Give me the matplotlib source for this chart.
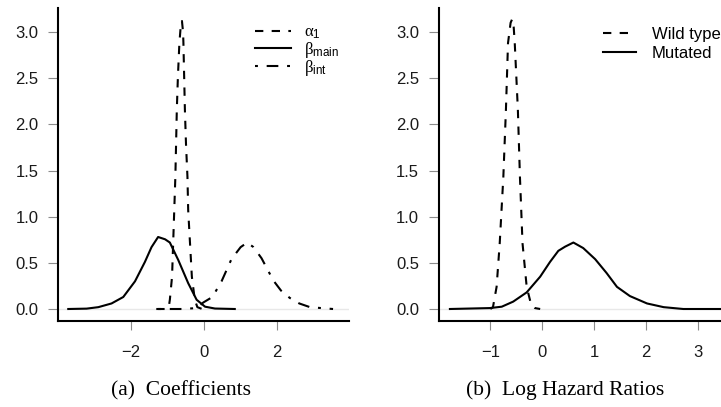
import matplotlib
matplotlib.use("Agg")
import matplotlib.pyplot as plt

alpha1_x = [-1.30, -1.00, -0.96, -0.93, -0.87, -0.84, -0.81, -0.78, -0.76, -0.74, -0.71, -0.67,
            -0.63, -0.60, -0.57, -0.56, -0.54, -0.52, -0.49, -0.45, -0.43, -0.38, -0.33, -0.25,
            -0.18, -0.05]
alpha1_y = [0.00, 0.00, 0.02, 0.10, 0.35, 0.71, 1.07, 1.43, 1.79, 2.16, 2.52, 2.88,
            3.08, 3.12, 3.00, 2.88, 2.52, 2.16, 1.79, 1.43, 1.07, 0.71, 0.35, 0.10,
            0.02, 0.00]

beta_main_x = [-3.70, -3.20, -2.88, -2.52, -2.20, -1.88, -1.61, -1.43, -1.25, -1.06, -0.93,
               -0.70, -0.43, -0.20, 0.03, 0.30, 0.84]
beta_main_y = [0.00, 0.004, 0.02, 0.06, 0.13, 0.30, 0.51, 0.67, 0.78, 0.755, 0.72,
               0.53, 0.28, 0.10, 0.025, 0.005, 0.00]

beta_int_x = [-1.25, -0.60, -0.20, -0.02, 0.23, 0.48, 0.75, 1.00, 1.18, 1.35, 1.57, 1.89,
              2.10, 2.34, 2.60, 2.89, 3.20, 3.52]
beta_int_y = [0.00, 0.00, 0.01, 0.07, 0.13, 0.30, 0.54, 0.67, 0.72, 0.67, 0.55, 0.31,
              0.20, 0.12, 0.06, 0.02, 0.01, 0.00]

wild_x = [-1.00, -0.95, -0.88, -0.82, -0.75, -0.70, -0.66, -0.61, -0.58, -0.55, -0.53,
          -0.47, -0.43, -0.38, -0.30, -0.22, -0.14, -0.04]
wild_y = [0.00, 0.02, 0.24, 0.71, 1.43, 2.16, 2.88, 3.10, 3.14, 3.05, 2.88,
          2.16, 1.43, 0.71, 0.24, 0.06, 0.01, 0.00]

mut_x = [-1.78, -1.01, -0.78, -0.56, -0.30, -0.04, 0.15, 0.31, 0.44, 0.60, 0.79, 1.02,
         1.24, 1.44, 1.69, 2.02, 2.34, 2.72, 3.60]
mut_y = [0.00, 0.01, 0.025, 0.08, 0.18, 0.35, 0.51, 0.63, 0.675, 0.72, 0.66, 0.54,
         0.39, 0.24, 0.14, 0.06, 0.02, 0.00, 0.00]

yticks = [0.0, 0.5, 1.0, 1.5, 2.0, 2.5, 3.0]
xticks_a = [-2, 0, 2]
xticks_b = [-1, 0, 1, 2, 3]

plt.rcParams["font.family"] = ["Liberation Sans", "DejaVu Sans"]
plt.rcParams["mathtext.fontset"] = "custom"
plt.rcParams["mathtext.rm"] = "Liberation Sans"
plt.rcParams["mathtext.it"] = "Liberation Serif"

LW = 1.5
DASH = (4, 4)
DOTDASH = (1.4, 4.2, 5.6, 4.2)
FS = 12

fig = plt.figure(figsize=(7.21, 4.07), dpi=100)
ax_a = fig.add_axes([0.0811, 0.2113, 0.4029, 0.7683])
ax_b = fig.add_axes([0.6089, 0.2113, 0.4029, 0.7683])


def style_axes(ax, xlim, xticks):
    ax.set_xlim(*xlim)
    ax.set_ylim(-0.13, 3.257)
    ax.axhline(0, color="#e8e8e8", lw=1.0, zorder=0)
    for side in ("top", "right"):
        ax.spines[side].set_visible(False)
    for side in ("left", "bottom"):
        ax.spines[side].set_linewidth(1.5)
        ax.spines[side].set_color("black")
    ax.set_yticks(yticks)
    ax.set_yticklabels(["%.1f" % v for v in yticks])
    ax.set_xticks(xticks)
    ax.set_xticklabels(["\u2212%d" % -v if v < 0 else "%d" % v for v in xticks])
    ax.tick_params(axis="y", direction="out", length=7, width=0.8, color="#8c8c8c",
                   pad=7.5, labelsize=FS, labelcolor="#1a1a1a")
    ax.tick_params(axis="x", direction="out", length=6.5, width=0.8, color="#8c8c8c",
                   pad=10.5, labelsize=FS, labelcolor="#1a1a1a")


# (a) coefficients
style_axes(ax_a, (-3.967, 3.954), xticks_a)
ax_a.plot(alpha1_x, alpha1_y, color="black", lw=LW, dashes=DASH, label=r"$\alpha_{\mathrm{1}}$")
ax_a.plot(beta_main_x, beta_main_y, color="black", lw=LW, label=r"$\beta_{\mathrm{main}}$")
ax_a.plot(beta_int_x, beta_int_y, color="black", lw=LW, dashes=DOTDASH,
          label=r"$\beta_{\mathrm{int}}$")
ax_a.legend(loc="upper left", bbox_to_anchor=(0.676, 0.948), frameon=False, fontsize=FS,
            handlelength=2.15, handletextpad=0.8, labelspacing=-0.08, borderpad=0,
            borderaxespad=0)

# (b) log hazard ratios
style_axes(ax_b, (-1.99, 3.61), xticks_b)
ax_b.plot(wild_x, wild_y, color="black", lw=LW, dashes=DASH, label="Wild type")
ax_b.plot(mut_x, mut_y, color="black", lw=LW, label="Mutated")
ax_b.legend(loc="upper left", bbox_to_anchor=(0.566, 0.94), frameon=False, fontsize=FS,
            handlelength=1.95, handletextpad=0.96, labelspacing=0.22, borderpad=0,
            borderaxespad=0)

fig.text(181 / 721, 1 - 395 / 407, "(a)  Coefficients", ha="center", va="baseline",
         family="Liberation Serif", fontsize=15.5)
fig.text(564.7 / 721, 1 - 395 / 407, "(b)  Log Hazard Ratios", ha="center", va="baseline",
         family="Liberation Serif", fontsize=15.5)

fig.savefig("out.png", dpi=100)
